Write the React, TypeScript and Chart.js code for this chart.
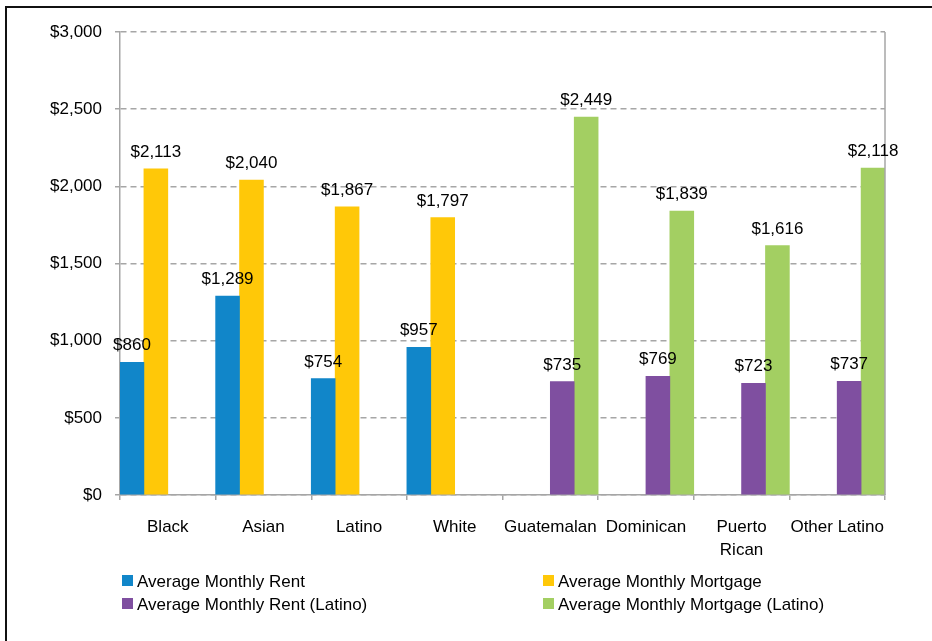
import React, { useEffect, useRef } from "react";
import { Chart, registerables } from "chart.js";

Chart.register(...registerables);

const categories: (string | string[])[] = ["Black", "Asian", "Latino", "White", "Guatemalan", "Dominican", ["Puerto", "Rican"], "Other Latino"];
const rent: (number | null)[] = [860, 1289, 754, 957, null, null, null, null];
const mortgage: (number | null)[] = [2113, 2040, 1867, 1797, null, null, null, null];
const rentLatino: (number | null)[] = [null, null, null, null, 735, 769, 723, 737];
const mortgageLatino: (number | null)[] = [null, null, null, null, 2449, 1839, 1616, 2118];
const seriesNames = ["Average Monthly Rent", "Average Monthly Mortgage", "Average Monthly Rent (Latino)", "Average Monthly Mortgage (Latino)"];
const seriesColors = ["#1186C9", "#FFC808", "#7F4FA0", "#A3CF62"];

const FONT = "'Liberation Sans', Arial, sans-serif";
const fmt = (v: number) => "$" + v.toLocaleString("en-US");

const extras = {
  id: "extras",
  afterDraw(chart: any) {
    const ctx = chart.ctx;
    const area = chart.chartArea;
    ctx.save();
    ctx.strokeStyle = "#a6a6a6";
    ctx.lineWidth = 1.5;
    ctx.beginPath();
    ctx.moveTo(area.right, area.top);
    ctx.lineTo(area.right, area.bottom);
    ctx.stroke();
    ctx.fillStyle = "#000";
    ctx.font = `17px ${FONT}`;
    ctx.textAlign = "center";
    ctx.textBaseline = "alphabetic";
    chart.data.datasets.forEach((ds: any, i: number) => {
      const meta = chart.getDatasetMeta(i);
      meta.data.forEach((bar: any, j: number) => {
        const v = ds.data[j];
        if (v == null) return;
        ctx.fillText(fmt(v), bar.x, bar.y - 12);
      });
    });
    const items = [
      { x: 122, y: 575 },
      { x: 543, y: 575 },
      { x: 122, y: 598 },
      { x: 543, y: 598 },
    ];
    ctx.textAlign = "left";
    ctx.textBaseline = "middle";
    items.forEach((it, i) => {
      ctx.fillStyle = seriesColors[i];
      ctx.fillRect(it.x, it.y, 11, 11);
      ctx.fillStyle = "#000";
      ctx.fillText(seriesNames[i], it.x + 15, it.y + 7.5);
    });
    ctx.fillStyle = "#111";
    ctx.fillRect(5, 6, 2, 641);
    ctx.fillRect(5, 6, 932, 2);
    ctx.restore();
  },
};

export default function App() {
  const ref = useRef<HTMLCanvasElement>(null);
  useEffect(() => {
    const chart = new Chart(ref.current!, {
      type: "bar",
      data: {
        labels: categories,
        datasets: [rent, mortgage, rentLatino, mortgageLatino].map((d, i) => ({
          label: seriesNames[i],
          data: d,
          backgroundColor: seriesColors[i],
          borderWidth: 0,
          barPercentage: 1,
          categoryPercentage: 1,
        })),
      },
      options: {
        animation: false,
        responsive: false,
        devicePixelRatio: 1,
        layout: { padding: { left: 0, top: 32, right: 47, bottom: 0 } },
        plugins: { legend: { display: false }, tooltip: { enabled: false } },
        scales: {
          x: {
            grid: { display: true, drawOnChartArea: false, drawTicks: true, tickLength: 5, offset: true, color: "#a6a6a6", lineWidth: 1.5 },
            border: { display: true, color: "#a6a6a6", width: 1.5 },
            ticks: { color: "#000", font: { family: FONT, size: 17, lineHeight: 1.35 }, padding: 16, maxRotation: 0, autoSkip: false },
            afterFit: (s: any) => { s.height = 641 - 495; },
          },
          y: {
            min: 0,
            max: 3000,
            ticks: { stepSize: 500, color: "#000", font: { family: FONT, size: 17 }, padding: 13, callback: (v: any) => fmt(Number(v)) },
            grid: { color: "#a6a6a6", lineWidth: 1.5, tickBorderDash: [6, 4], tickLength: 5, drawTicks: true },
            border: { display: true, color: "#a6a6a6", width: 1.5, dash: [6, 4] },
            afterFit: (s: any) => { s.width = 120; },
          },
        },
      },
      plugins: [extras],
    });
    return () => chart.destroy();
  }, []);
  return (
    <div style={{ position: "fixed", left: 0, top: 0, width: 932, height: 641, background: "#fff" }}>
      <canvas ref={ref} width={932} height={641} />
    </div>
  );
}
